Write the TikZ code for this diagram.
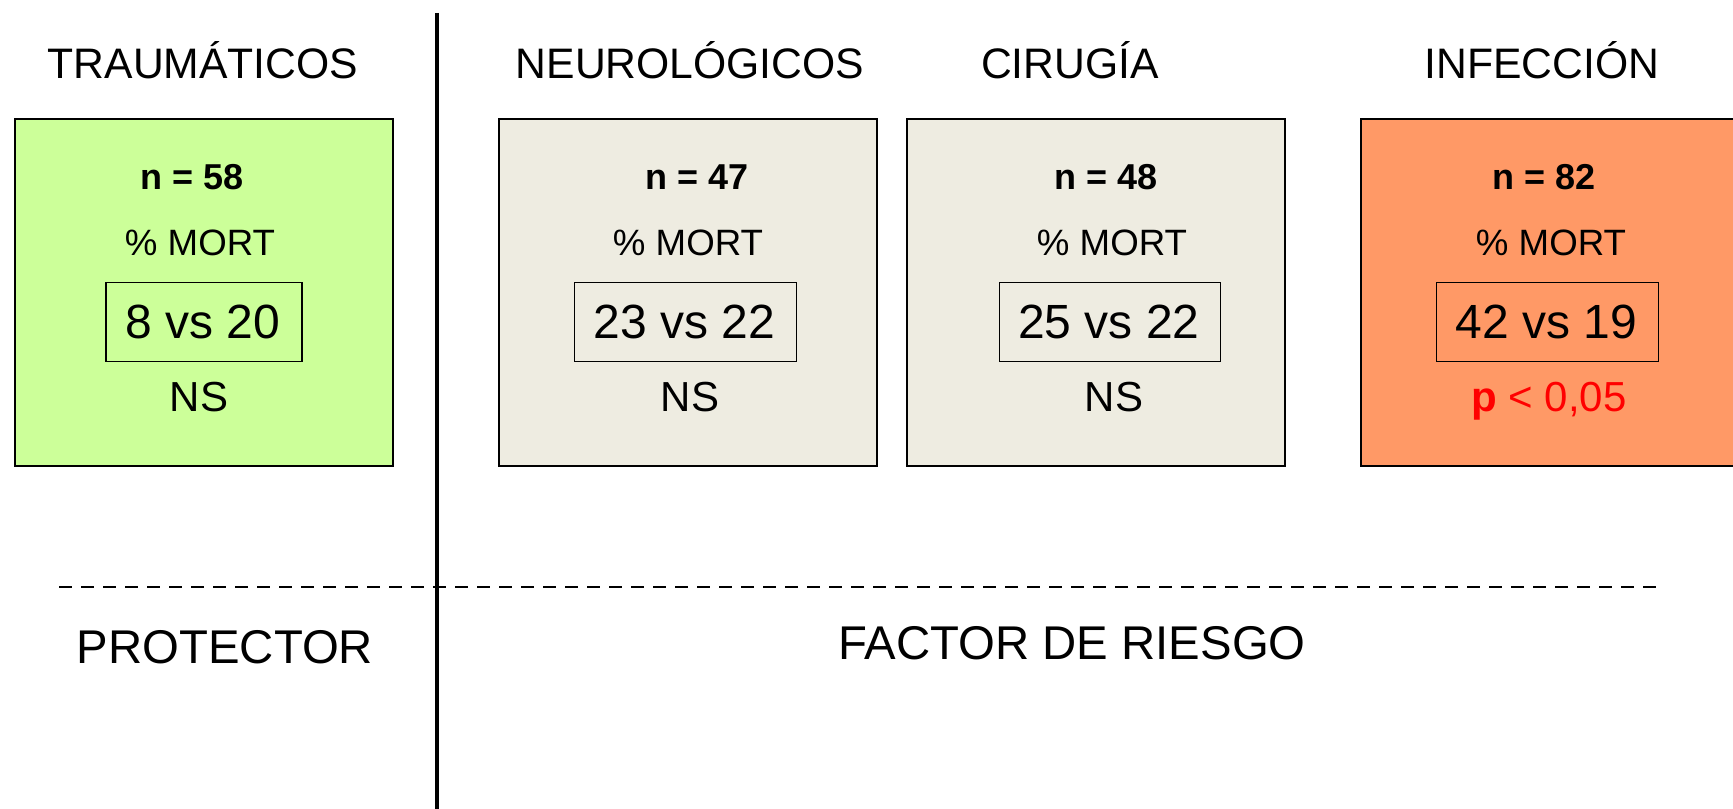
\documentclass[tikz,border=0pt]{standalone}
\usepackage{fontspec}
\setmainfont{Liberation Sans}
\definecolor{lgreen}{HTML}{CCFF99}
\definecolor{lbeige}{HTML}{EEECE1}
\definecolor{lorange}{HTML}{FF9966}
\definecolor{pred}{HTML}{FF0000}
\tikzset{
  outerbox/.style={draw=black, line width=1.6pt, anchor=north west, inner sep=0pt, minimum height=347*0.75pt},
  innerbox/.style={draw=black, line width=1.4pt, anchor=north west, inner sep=0pt, minimum height=79*0.75pt},
  title/.style={anchor=base, inner sep=0pt, font=\fontsize{32pt}{38pt}\selectfont},
  ntext/.style={anchor=base, inner sep=0pt, font=\fontsize{27pt}{32pt}\selectfont\bfseries},
  mort/.style={anchor=base, inner sep=0pt, font=\fontsize{27.5pt}{33pt}\selectfont},
  vals/.style={anchor=base, inner sep=0pt, font=\fontsize{36pt}{43pt}\selectfont},
  sig/.style={anchor=base, inner sep=0pt, font=\fontsize{31.5pt}{38pt}\selectfont},
  bottomlabel/.style={anchor=base, inner sep=0pt, font=\fontsize{35.5pt}{42pt}\selectfont},
}
\begin{document}
\begin{tikzpicture}[x=0.75pt, y=-0.75pt]
\useasboundingbox (0,0) rectangle (1733,809);
\begin{scope}
\clip (0,0) rectangle (1733,809);
% titles
\node[title] (t1) at (203,79) {TRAUMÁTICOS};
\node[title] (t2) at (690,79) {NEUROLÓGICOS};
\node[title] (t3) at (1070,79) {CIRUGÍA};
\node[title] (t4) at (1542,79) {INFECCIÓN};
% outer boxes
\node[outerbox, fill=lgreen, minimum width=378*0.75pt] (b1) at (14,118) {};
\node[outerbox, fill=lbeige, minimum width=378*0.75pt] (b2) at (498,118) {};
\node[outerbox, fill=lbeige, minimum width=378*0.75pt] (b3) at (906,118) {};
\node[outerbox, fill=lorange, minimum width=400*0.75pt] (b4) at (1360,118) {};
% n
\node[ntext] (n1) at (192,190) {n = 58};
\node[ntext] (n2) at (697,190) {n = 47};
\node[ntext] (n3) at (1106,190) {n = 48};
\node[ntext] (n4) at (1544,190) {n = 82};
% % MORT
\node[mort] (m1) at (200,255) {\% MORT};
\node[mort] (m2) at (688,255) {\% MORT};
\node[mort] (m3) at (1112,255) {\% MORT};
\node[mort] (m4) at (1551,255) {\% MORT};
% inner boxes
\node[innerbox, minimum width=196*0.75pt] (i1) at (105,281.5) {};
\node[innerbox, minimum width=222*0.75pt] (i2) at (573.5,281.5) {};
\node[innerbox, minimum width=221*0.75pt] (i3) at (998.5,281.5) {};
\node[innerbox, minimum width=222*0.75pt] (i4) at (1435.5,281.5) {};
\node[vals] (v1) at (202.5,338) {8 vs 20};
\node[vals] (v2) at (684.5,338) {23 vs 22};
\node[vals] (v3) at (1109,338) {25 vs 22};
\node[vals] (v4) at (1546.5,338) {42 vs 19};
% significance
\node[sig] (s1) at (199,411) {NS};
\node[sig] (s2) at (690,411) {NS};
\node[sig] (s3) at (1114,411) {NS};
\node[sig, text=pred] (s4) at (1549,411) {\textbf{p} < 0,05};
% separators
\coordinate (vtop) at (437,13);
\coordinate (vbot) at (437,809);
\draw[line width=2.3pt] (vtop) -- (vbot);
\coordinate (dl) at (59,587);
\coordinate (dr) at (1660,587);
\draw[line width=1.8pt, dash pattern=on 13*0.75pt off 9*0.75pt] (dl) -- (dr);
% bottom labels
\node[bottomlabel] (pr) at (225,663) {PROTECTOR};
\node[bottomlabel] (fr) at (1072,659) {FACTOR DE RIESGO};
\end{scope}
\end{tikzpicture}
\end{document}
